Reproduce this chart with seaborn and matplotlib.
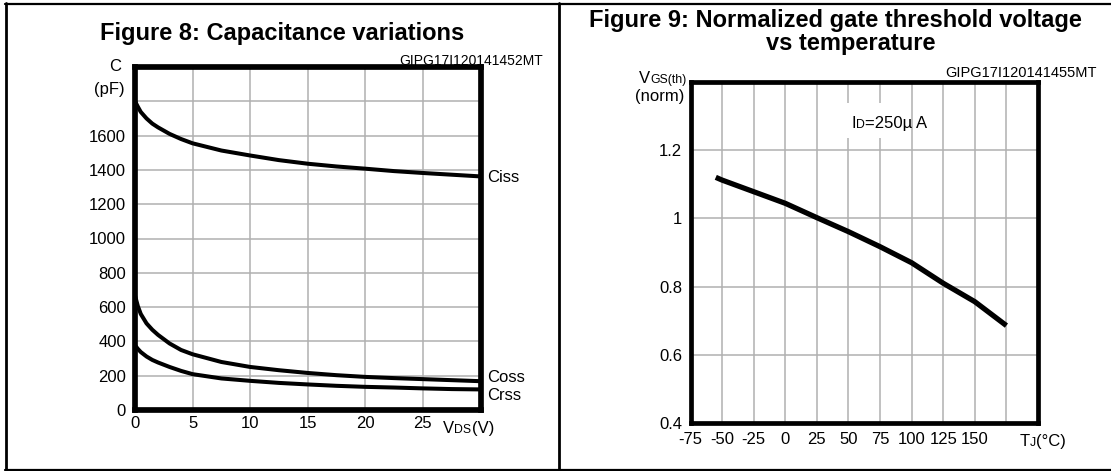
import matplotlib
matplotlib.use("Agg")
import matplotlib.pyplot as plt
import seaborn as sns
import pandas as pd
from matplotlib.lines import Line2D
from matplotlib.patches import Rectangle
from matplotlib.text import Annotation

# Figure 8 data
vds = [0, 0.25, 0.5, 1, 1.5, 2, 3, 4, 5, 7.5, 10, 12.5, 15, 17.5, 20, 22.5,
       25, 27.5, 30]
ciss = [1800, 1768, 1738, 1700, 1670, 1648, 1610, 1580, 1555, 1513, 1484,
        1457, 1436, 1420, 1407, 1393, 1382, 1372, 1362]
coss = [667, 605, 560, 505, 468, 438, 388, 350, 325, 280, 251, 232, 216,
        203, 193, 186, 180, 174, 168]
crss = [377, 356, 338, 312, 292, 277, 251, 228, 209, 184, 170, 158, 149,
        141, 135, 131, 126, 122, 120]
cap_x_ticks = ['0', '5', '10', '15', '20', '25', '']
cap_y_ticks = ['0', '200', '400', '600', '800', '1000', '1200', '1400',
               '1600', '', '']

# Figure 9 data
tj = [-55, -50, -25, 0, 25, 50, 75, 100, 125, 150, 175]
vth = [1.12, 1.112, 1.078, 1.044, 1.002, 0.961, 0.917, 0.870, 0.810, 0.756,
       0.686]
tj_ticks = ['-75', '-50', '-25', '0', '25', '50', '75', '100', '125', '150',
            '', '']
vth_ticks = ['0.4', '0.6', '0.8', '1', '1.2', '']

sns.set_style("white")
plt.rcParams['font.family'] = ['Liberation Sans', 'DejaVu Sans']
plt.rcParams['text.color'] = 'black'
plt.rcParams['xtick.color'] = 'black'
plt.rcParams['ytick.color'] = 'black'

W, H = 1111, 471
FS = 12     # normal text size
SUB = 8.8   # small letters in symbols


def fx(px):
    return px / W


def fy(py):
    return 1 - py / H


fig = plt.figure(figsize=(W / 100, H / 100), dpi=100)

# outer frame
for xs, ys, lw in [([5, W], [3.5, 3.5], 1.6), ([5, W], [470, 470], 1.6),
                   ([6, 6], [3, 470], 2), ([559.3, 559.3], [3, 470], 2)]:
    fig.add_artist(Line2D([fx(x) for x in xs], [fy(y) for y in ys],
                          transform=fig.transFigure, color='black', lw=lw))

ax1 = fig.add_axes([fx(135), fy(410), 345.5 / W, 343 / H])
ax2 = fig.add_axes([fx(690.5), fy(423.3), 347.5 / W, 341.6 / H])

cap = pd.DataFrame({'vds': vds * 3, 'pf': ciss + coss + crss,
                    'curve': ['Ciss'] * len(vds) + ['Coss'] * len(vds)
                    + ['Crss'] * len(vds)})
sns.lineplot(data=cap, x='vds', y='pf', hue='curve',
             palette=['black'] * 3, lw=2.9, legend=False, ax=ax1)

thr = pd.DataFrame({'tj': tj, 'vth': vth})
sns.lineplot(data=thr, x='tj', y='vth', color='black', lw=3.8, ax=ax2,
             solid_capstyle='butt')

grid_kw = dict(color='#b0b0b0', lw=1.1)

ax1.set_xlim(0, 30)
ax1.set_ylim(0, 2000)
ax1.set_xticks(range(0, 31, 5))
ax1.set_xticklabels(cap_x_ticks)
ax1.set_yticks(range(0, 2001, 200))
ax1.set_yticklabels(cap_y_ticks)
ax1.tick_params(axis='x', length=0, labelsize=FS, pad=4.5)
ax1.tick_params(axis='y', length=0, labelsize=FS, pad=6.5)

ax2.set_xlim(-75, 200)
ax2.set_ylim(0.4, 1.4)
ax2.set_xticks(range(-75, 201, 25))
ax2.set_xticklabels(tj_ticks)
ax2.set_yticks([0.4, 0.6, 0.8, 1.0, 1.2, 1.4])
ax2.set_yticklabels(vth_ticks)
ax2.tick_params(axis='x', length=0, labelsize=FS, pad=6.5)
ax2.tick_params(axis='y', length=0, labelsize=FS, pad=6)

for ax, slw in [(ax1, 4.1), (ax2, 3.4)]:
    ax.set_xlabel('')
    ax.set_ylabel('')
    ax.set_axisbelow(True)
    ax.grid(True, **grid_kw)
    for s in ax.spines.values():
        s.set_visible(True)
        s.set_color('black')
        s.set_linewidth(slw)
        s.set_capstyle('projecting')

# white patch behind the ID note
ax2.add_patch(Rectangle((0.416, 0.835), 0.2, 0.103, transform=ax2.transAxes,
                        facecolor='white', edgecolor='none', zorder=1))


def multi_text(x, y, parts):
    """Write text pieces of different sizes one after another."""
    t = fig.text(fx(x), fy(y), parts[0][0], fontsize=parts[0][1],
                 va='baseline', ha='left')
    for txt, sz in parts[1:]:
        t = fig.add_artist(Annotation(txt, xy=(1, 0), xycoords=t,
                                      va='bottom', ha='left', fontsize=sz,
                                      annotation_clip=False))
    return t


# titles
fig.text(fx(282), fy(40), 'Figure 8: Capacitance variations',
         ha='center', va='baseline', fontsize=17, fontweight='bold')
fig.text(fx(835), fy(27.3), 'Figure 9: Normalized gate threshold voltage',
         ha='center', va='baseline', fontsize=17, fontweight='bold')
fig.text(fx(851), fy(50), 'vs temperature',
         ha='center', va='baseline', fontsize=17, fontweight='bold')

# drawing codes
fig.text(fx(543), fy(65), 'GIPG17I120141452MT', ha='right',
         va='baseline', fontsize=10)
fig.text(fx(1097), fy(76.7), 'GIPG17I120141455MT', ha='right',
         va='baseline', fontsize=10.5)

# axis captions
fig.text(fx(115), fy(70.7), 'C', ha='center', va='baseline', fontsize=FS)
fig.text(fx(125), fy(93.7), '(pF)', ha='right', va='baseline', fontsize=FS)
multi_text(443.3, 433.3, [('V', FS), ('DS', SUB), ('(V)', FS)])

multi_text(639, 83.3, [('V', FS), ('GS(th)', SUB)])
fig.text(fx(684.4), fy(101), '(norm)', ha='right', va='baseline',
         fontsize=FS)
multi_text(1019.5, 446, [('T', FS), ('J', SUB), ('(°C)', FS)])
multi_text(851.7, 128.3, [('I', FS), ('D', SUB), ('=250µ A', FS)])

# curve names
fig.text(fx(487.5), fy(181.7), 'Ciss', ha='left', va='baseline', fontsize=FS)
fig.text(fx(487.5), fy(381.7), 'Coss', ha='left', va='baseline', fontsize=FS)
fig.text(fx(487.5), fy(400), 'Crss', ha='left', va='baseline', fontsize=FS)

fig.savefig('out.png', dpi=100)
